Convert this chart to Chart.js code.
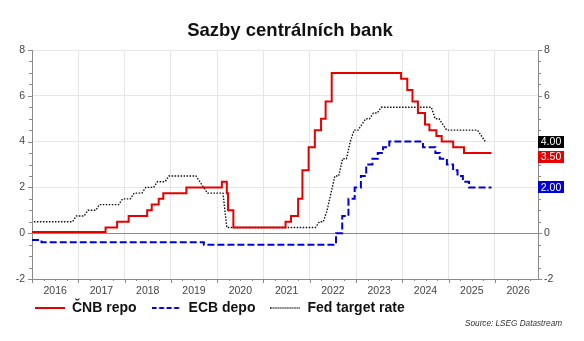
<!DOCTYPE html>
<html>
<head>
<meta charset="utf-8">
<script src="https://cdn.jsdelivr.net/npm/chart.js@4.4.1/dist/chart.umd.min.js"></script>
<style>
  html, body { margin: 0; padding: 0; background: #fff; }
</style>
</head>
<body>
<canvas id="myChart" width="584" height="341"></canvas>
<script>
const ctx = document.getElementById('myChart').getContext('2d');

// CNB repo rate: change dates and new levels
const CNB_DATES = ['2016-01-01', '2017-08-04', '2017-11-03', '2018-02-02', '2018-06-28', '2018-08-03',
  '2018-09-27', '2018-11-02', '2019-05-03', '2020-02-07', '2020-03-17', '2020-03-27', '2020-05-08',
  '2021-06-24', '2021-08-06', '2021-10-01', '2021-11-04', '2021-12-23', '2022-02-10', '2022-03-31',
  '2022-05-06', '2022-06-23', '2023-12-22', '2024-02-09', '2024-03-21', '2024-05-03', '2024-06-28',
  '2024-08-02', '2024-09-26', '2024-11-07', '2025-02-06', '2025-05-02', '2025-12-05'];
const CNB_RATES = [0.05, 0.25, 0.50, 0.75, 1.00, 1.25, 1.50, 1.75, 2.00, 2.25, 1.75, 1.00, 0.25,
  0.50, 0.75, 1.50, 2.75, 3.75, 4.50, 5.00, 5.75, 7.00, 6.75, 6.25, 5.75, 5.25, 4.75,
  4.50, 4.25, 4.00, 3.75, 3.50, 3.50];

// ECB deposit rate
const ECB_DATES = ['2016-01-01', '2016-03-16', '2019-09-18', '2022-07-27', '2022-09-14', '2022-11-02',
  '2022-12-21', '2023-02-08', '2023-03-22', '2023-05-10', '2023-06-21', '2023-08-02', '2023-09-20',
  '2024-06-12', '2024-09-18', '2024-10-23', '2024-12-18', '2025-02-05', '2025-03-12', '2025-04-23',
  '2025-06-11', '2025-12-05'];
const ECB_RATES = [-0.30, -0.40, -0.50, 0.00, 0.75, 1.50, 2.00, 2.50, 3.00, 3.25, 3.50, 3.75, 4.00,
  3.75, 3.50, 3.25, 3.00, 2.75, 2.50, 2.25, 2.00, 2.00];

// Fed target rate (upper bound), monthly from Jan 2016
const FED_START_YEAR = 2016;
const FED_MONTHLY = [
  0.50, 0.50, 0.50, 0.50, 0.50, 0.50, 0.50, 0.50, 0.50, 0.50, 0.50, 0.75, // 2016
  0.75, 0.75, 1.00, 1.00, 1.00, 1.25, 1.25, 1.25, 1.25, 1.25, 1.25, 1.50, // 2017
  1.50, 1.50, 1.75, 1.75, 1.75, 2.00, 2.00, 2.00, 2.25, 2.25, 2.25, 2.50, // 2018
  2.50, 2.50, 2.50, 2.50, 2.50, 2.50, 2.50, 2.25, 2.00, 1.75, 1.75, 1.75, // 2019
  1.75, 1.75, 0.25, 0.25, 0.25, 0.25, 0.25, 0.25, 0.25, 0.25, 0.25, 0.25, // 2020
  0.25, 0.25, 0.25, 0.25, 0.25, 0.25, 0.25, 0.25, 0.25, 0.25, 0.25, 0.25, // 2021
  0.25, 0.25, 0.50, 0.50, 1.00, 1.75, 2.50, 2.50, 3.25, 3.25, 4.00, 4.50, // 2022
  4.50, 4.75, 5.00, 5.00, 5.25, 5.25, 5.50, 5.50, 5.50, 5.50, 5.50, 5.50, // 2023
  5.50, 5.50, 5.50, 5.50, 5.50, 5.50, 5.50, 5.50, 5.00, 5.00, 4.75, 4.50, // 2024
  4.50, 4.50, 4.50, 4.50, 4.50, 4.50, 4.50, 4.50, 4.25, 4.00              // 2025
];

const YEARS = [2016, 2017, 2018, 2019, 2020, 2021, 2022, 2023, 2024, 2025, 2026];
const X_MIN = 2016;
const X_MAX = 2026.93;
const Y_MIN = -2;
const Y_MAX = 8;

const RED = '#e60000';
const BLUE = '#0000dc';
const DARK = '#111111';

function toYear(s) {
  const d = new Date(s + 'T00:00:00Z');
  const y = d.getUTCFullYear();
  const start = Date.UTC(y, 0, 1);
  const end = Date.UTC(y + 1, 0, 1);
  return y + (d - start) / (end - start);
}

function toPoints(dates, rates) {
  return dates.map((d, i) => ({x: toYear(d), y: rates[i]}));
}

// little canvas used as legend symbol, so the dash pattern shows
function legendSample(color, width, dash) {
  const c = document.createElement('canvas');
  c.width = 30;
  c.height = 4;
  const g = c.getContext('2d');
  g.strokeStyle = color;
  g.lineWidth = width;
  g.setLineDash(dash);
  g.beginPath();
  g.moveTo(0, 2);
  g.lineTo(30, 2);
  g.stroke();
  return c;
}

const fedPoints = FED_MONTHLY.map((v, i) => ({x: FED_START_YEAR + (i + 0.5) / 12, y: v}));

Chart.defaults.font.family = '"Liberation Sans", Arial, sans-serif';
Chart.defaults.color = '#444';

// axis tick marks, last value badges and source note
const extrasPlugin = {
  id: 'extras',
  afterLayout(chart) {
    // labels are clipped to their scale box, let them use the free space around
    chart.scales.x.bottom = chart.scales.x.top + 20;
    chart.scales.y.left = 0;
  },
  afterDraw(chart) {
    const {ctx, chartArea: a, scales} = chart;
    ctx.save();
    ctx.strokeStyle = '#8a8a8a';
    ctx.lineWidth = 1;
    ctx.beginPath();
    for (let v = Y_MIN; v <= Y_MAX; v += 0.5) {
      const py = Math.round(scales.y.getPixelForValue(v)) + 0.5;
      const len = v % 2 === 0 ? 4 : 3;
      ctx.moveTo(a.left, py); ctx.lineTo(a.left - len, py);
      ctx.moveTo(a.right, py); ctx.lineTo(a.right + len, py);
    }
    for (let q = X_MIN * 4; q <= X_MAX * 4; q++) {
      const px = Math.round(scales.x.getPixelForValue(q / 4)) + 0.5;
      const len = q % 4 === 0 ? 4 : 2;
      ctx.moveTo(px, a.bottom); ctx.lineTo(px, a.bottom + len);
    }
    ctx.stroke();

    // badges with the latest values
    const items = chart.data.datasets.map(ds => {
      const last = ds.data[ds.data.length - 1];
      return {value: last.y, color: ds.badgeColor, y: scales.y.getPixelForValue(last.y)};
    }).sort((p, q) => p.y - q.y);
    for (let i = 1; i < items.length; i++) {
      if (items[i].y < items[i - 1].y + 15) items[i].y = items[i - 1].y + 15;
    }
    ctx.font = '10.5px "Liberation Sans", Arial, sans-serif';
    ctx.textAlign = 'center';
    ctx.textBaseline = 'middle';
    items.forEach(it => {
      ctx.fillStyle = it.color;
      ctx.fillRect(a.right, Math.round(it.y - 6), 26, 12);
      ctx.fillStyle = '#fff';
      ctx.fillText(it.value.toFixed(2), a.right + 13, it.y + 0.5);
    });

    ctx.font = 'italic 8.2px "Liberation Sans", Arial, sans-serif';
    ctx.fillStyle = '#333';
    ctx.textAlign = 'right';
    ctx.fillText('Source: LSEG Datastream', 562, 324);
    ctx.restore();
  }
};

new Chart(ctx, {
  type: 'line',
  data: {
    datasets: [{
      label: 'ČNB repo',
      data: toPoints(CNB_DATES, CNB_RATES),
      borderColor: RED,
      backgroundColor: RED,
      borderWidth: 2,
      stepped: true,
      pointStyle: legendSample(RED, 2, []),
      badgeColor: RED
    },
    {
      label: 'ECB depo',
      data: toPoints(ECB_DATES, ECB_RATES),
      borderColor: BLUE,
      backgroundColor: BLUE,
      borderWidth: 2,
      borderDash: [7, 3],
      stepped: true,
      pointStyle: legendSample(BLUE, 2, [5, 2.5]),
      badgeColor: BLUE
    },
    {
      label: 'Fed target rate',
      data: fedPoints,
      borderColor: DARK,
      backgroundColor: DARK,
      borderWidth: 1.4,
      borderDash: [1.5, 1.5],
      pointStyle: legendSample('#000', 1.6, [1.2, 1.2]),
      badgeColor: '#000'
    }]
  },
  options: {
    responsive: false,
    animation: false,
    events: [],
    elements: {point: {radius: 0}, line: {tension: 0}},
    layout: {padding: {left: 20, right: 24, top: 0, bottom: 16}},
    plugins: {
      title: {
        display: true,
        text: 'Sazby centrálních bank',
        color: '#111',
        font: {size: 18.5, weight: 'bold'},
        padding: {top: 20, bottom: 7.8}
      },
      legend: {
        position: 'bottom',
        align: 'start',
        labels: {
          usePointStyle: true,
          pointStyleWidth: 30,
          padding: 15,
          color: '#111',
          font: {size: 14, weight: 'bold'}
        }
      },
      tooltip: {enabled: false}
    },
    scales: {
      x: {
        type: 'linear',
        min: X_MIN,
        max: X_MAX,
        afterBuildTicks: (scale) => {
          const ticks = [];
          YEARS.forEach(y => { ticks.push({value: y}); ticks.push({value: y + 0.5}); });
          scale.ticks = ticks;
        },
        afterFit: (scale) => { scale.height = 7; },
        ticks: {
          autoSkip: false,
          maxRotation: 0,
          padding: 6,
          font: {size: 10.5},
          callback: (value) => value % 1 ? String(Math.floor(value)) : ''
        },
        grid: {
          drawTicks: false,
          color: (c) => (c.tick && c.tick.value % 1 === 0) ? '#e6e6e6' : 'rgba(0,0,0,0)'
        },
        border: {color: '#8a8a8a'}
      },
      y: {
        position: 'left',
        min: Y_MIN,
        max: Y_MAX,
        afterFit: (scale) => { scale.width = 12; },
        ticks: {stepSize: 2, padding: 7, font: {size: 10.5}},
        grid: {
          drawTicks: false,
          color: (c) => (c.tick && c.tick.value === 0) ? '#8a8a8a' : '#e6e6e6'
        },
        border: {color: '#8a8a8a'}
      },
      y2: {
        position: 'right',
        min: Y_MIN,
        max: Y_MAX,
        afterFit: (scale) => { scale.width = 22; },
        ticks: {stepSize: 2, padding: 6, font: {size: 10.5}},
        grid: {display: false, drawTicks: false},
        border: {color: '#8a8a8a'}
      }
    }
  },
  plugins: [extrasPlugin]
});
</script>
</body>
</html>
